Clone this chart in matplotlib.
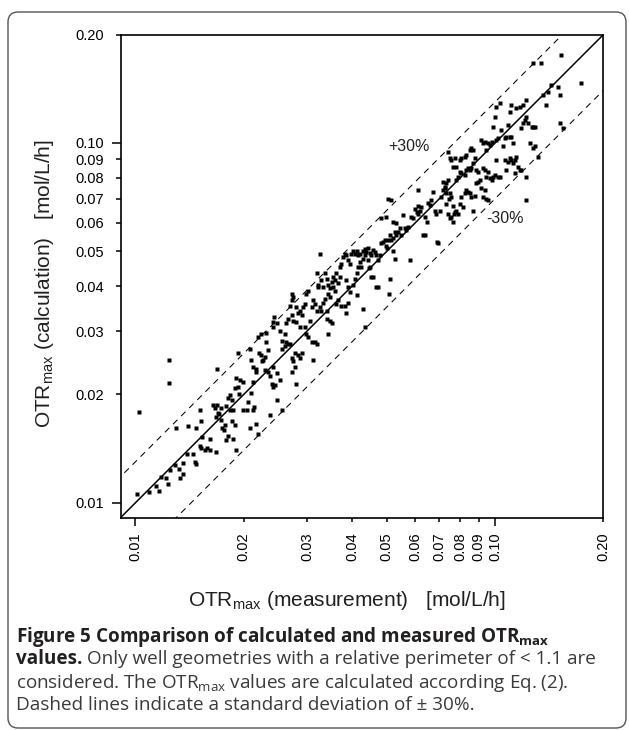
import matplotlib
matplotlib.use('Agg')
import matplotlib.pyplot as plt
import numpy as np
from matplotlib.patches import FancyBboxPatch
from matplotlib.transforms import IdentityTransform
from matplotlib.ticker import FixedLocator, FixedFormatter

plt.rcParams['font.family'] = 'Liberation Sans'
plt.rcParams['mathtext.fontset'] = 'custom'
plt.rcParams['mathtext.rm'] = 'Liberation Sans'
plt.rcParams['mathtext.bf'] = 'Open Sans:bold'
plt.rcParams['mathtext.sf'] = 'Open Sans'

# ### data (OTRmax, mol/L/h)
# low range
meas_a = [0.0101, 0.0109, 0.0116, 0.0114, 0.0118, 0.0123, 0.0122, 0.0125, 0.0129, 0.0133,
          0.0132, 0.0136, 0.0136, 0.0139, 0.0145, 0.0146, 0.0147, 0.0151, 0.0152, 0.0156,
          0.0158, 0.0161, 0.0161, 0.0167, 0.0153, 0.0147, 0.0140, 0.0130, 0.0151, 0.0152,
          0.0102, 0.0124, 0.0124]
calc_a = [0.0106, 0.0107, 0.0108, 0.0111, 0.0118, 0.0113, 0.0117, 0.0123, 0.0127, 0.0117,
          0.0124, 0.0129, 0.0120, 0.0137, 0.0137, 0.0130, 0.0128, 0.0144, 0.0142, 0.0140,
          0.0142, 0.0140, 0.0150, 0.0138, 0.0152, 0.0161, 0.0163, 0.0161, 0.0181, 0.0169,
          0.0179, 0.0250, 0.0215]

meas_b = [0.0164, 0.0166, 0.0168, 0.0171, 0.0173, 0.0174, 0.0176, 0.0177, 0.0179, 0.0181,
          0.0186, 0.0187, 0.0189, 0.0191, 0.0179, 0.0181, 0.0183, 0.0187, 0.0173, 0.0169,
          0.0170, 0.0169, 0.0193, 0.0191, 0.0193, 0.0194, 0.0183, 0.0185, 0.0189, 0.0195,
          0.0199, 0.0199, 0.0204, 0.0206, 0.0208, 0.0212, 0.0213, 0.0217, 0.0219, 0.0212,
          0.0210]
calc_b = [0.0187, 0.0183, 0.0173, 0.0176, 0.0170, 0.0161, 0.0159, 0.0164, 0.0149, 0.0153,
          0.0169, 0.0150, 0.0164, 0.0140, 0.0186, 0.0195, 0.0181, 0.0181, 0.0183, 0.0187,
          0.0178, 0.0235, 0.0261, 0.0222, 0.0210, 0.0200, 0.0199, 0.0193, 0.0208, 0.0219,
          0.0216, 0.0181, 0.0181, 0.0190, 0.0161, 0.0181, 0.0185, 0.0166, 0.0155, 0.0217,
          0.0202]

meas_c = [0.0208, 0.0210, 0.0212, 0.0216, 0.0217, 0.0219, 0.0221, 0.0224, 0.0225, 0.0226,
          0.0229, 0.0224, 0.0231, 0.0229, 0.0234, 0.0236, 0.0239, 0.0236, 0.0242, 0.0247,
          0.0255, 0.0252, 0.0244, 0.0247, 0.0242, 0.0231, 0.0234, 0.0242, 0.0242, 0.0243,
          0.0247, 0.0252, 0.0255, 0.0256, 0.0260, 0.0260, 0.0263, 0.0266, 0.0269, 0.0272,
          0.0274, 0.0277, 0.0273, 0.0280, 0.0277, 0.0283, 0.0286, 0.0290, 0.0312, 0.0309,
          0.0315, 0.0319, 0.0299, 0.0302, 0.0305, 0.0296, 0.0286, 0.0280, 0.0274, 0.0272,
          0.0266, 0.0263, 0.0269, 0.0272, 0.0273, 0.0274, 0.0280, 0.0283, 0.0286, 0.0290,
          0.0293, 0.0296, 0.0299, 0.0302, 0.0309, 0.0312, 0.0315, 0.0319, 0.0322, 0.0325,
          0.0329, 0.0332, 0.0336, 0.0340, 0.0343, 0.0347, 0.0351, 0.0355, 0.0358]
calc_c = [0.0268, 0.0250, 0.0239, 0.0236, 0.0231, 0.0288, 0.0260, 0.0257, 0.0247, 0.0250,
          0.0255, 0.0294, 0.0297, 0.0234, 0.0231, 0.0225, 0.0214, 0.0175, 0.0210, 0.0193,
          0.0181, 0.0219, 0.0212, 0.0229, 0.0239, 0.0279, 0.0265, 0.0318, 0.0308, 0.0329,
          0.0315, 0.0300, 0.0282, 0.0268, 0.0273, 0.0294, 0.0279, 0.0276, 0.0277, 0.0252,
          0.0247, 0.0239, 0.0231, 0.0214, 0.0260, 0.0257, 0.0252, 0.0260, 0.0250, 0.0279,
          0.0279, 0.0277, 0.0294, 0.0288, 0.0321, 0.0308, 0.0308, 0.0318, 0.0321, 0.0333,
          0.0324, 0.0315, 0.0353, 0.0365, 0.0381, 0.0373, 0.0349, 0.0336, 0.0341, 0.0333,
          0.0349, 0.0357, 0.0381, 0.0389, 0.0349, 0.0365, 0.0357, 0.0341, 0.0403, 0.0349,
          0.0341, 0.0360, 0.0368, 0.0420, 0.0403, 0.0395, 0.0412, 0.0398, 0.0389]

# middle range
meas_d = [0.0362, 0.0366, 0.0374, 0.0382, 0.0386, 0.0390, 0.0394, 0.0403, 0.0407, 0.0412,
          0.0416, 0.0421, 0.0425, 0.0430, 0.0434, 0.0439, 0.0442, 0.0446, 0.0450, 0.0453,
          0.0458, 0.0468, 0.0468, 0.0463, 0.0458, 0.0340, 0.0341, 0.0347, 0.0351, 0.0343,
          0.0327, 0.0319, 0.0322, 0.0329, 0.0332, 0.0336, 0.0343, 0.0347, 0.0355, 0.0362,
          0.0370, 0.0374, 0.0378, 0.0382, 0.0386, 0.0390, 0.0394, 0.0398, 0.0403, 0.0407,
          0.0412, 0.0416, 0.0421, 0.0430, 0.0434, 0.0444, 0.0448, 0.0453, 0.0390, 0.0430,
          0.0434, 0.0412, 0.0386, 0.0370, 0.0366, 0.0358]
calc_d = [0.0357, 0.0365, 0.0353, 0.0353, 0.0336, 0.0398, 0.0385, 0.0402, 0.0419, 0.0434,
          0.0452, 0.0467, 0.0452, 0.0477, 0.0487, 0.0499, 0.0472, 0.0448, 0.0452, 0.0425,
          0.0425, 0.0398, 0.0487, 0.0498, 0.0504, 0.0341, 0.0324, 0.0321, 0.0315, 0.0294,
          0.0492, 0.0434, 0.0398, 0.0417, 0.0398, 0.0434, 0.0381, 0.0373, 0.0425, 0.0434,
          0.0452, 0.0462, 0.0482, 0.0492, 0.0487, 0.0472, 0.0462, 0.0492, 0.0502, 0.0492,
          0.0502, 0.0487, 0.0492, 0.0502, 0.0507, 0.0512, 0.0496, 0.0487, 0.0358, 0.0345,
          0.0308, 0.0377, 0.0417, 0.0425, 0.0407, 0.0417]

meas_e = [0.0473, 0.0478, 0.0483, 0.0488, 0.0493, 0.0499, 0.0501, 0.0504, 0.0510, 0.0515,
          0.0521, 0.0526, 0.0532, 0.0538, 0.0543, 0.0549, 0.0521, 0.0526, 0.0510, 0.0508,
          0.0473, 0.0483, 0.0499, 0.0504, 0.0515, 0.0521, 0.0532, 0.0555, 0.0561, 0.0567,
          0.0573, 0.0579, 0.0585, 0.0592, 0.0598, 0.0605, 0.0611, 0.0611, 0.0618, 0.0624,
          0.0631, 0.0638, 0.0645, 0.0652, 0.0658, 0.0665, 0.0672, 0.0680, 0.0687, 0.0690,
          0.0694, 0.0702, 0.0709, 0.0717, 0.0724, 0.0732, 0.0740, 0.0748, 0.0756, 0.0764,
          0.0767, 0.0772, 0.0764, 0.0756, 0.0748, 0.0740, 0.0732, 0.0724, 0.0717, 0.0732,
          0.0745, 0.0781, 0.0789, 0.0798, 0.0806, 0.0815, 0.0823, 0.0832, 0.0841, 0.0850,
          0.0860, 0.0869, 0.0878, 0.0888, 0.0897, 0.0907, 0.0916, 0.0926, 0.0936, 0.0946,
          0.0956, 0.0781, 0.0789, 0.0798, 0.0806, 0.0823, 0.0832, 0.0841, 0.0850, 0.0860,
          0.0869, 0.0878, 0.0888, 0.0897, 0.0764, 0.0756, 0.0772, 0.0781, 0.0798, 0.0806,
          0.0823, 0.0832, 0.0850, 0.0860, 0.0869, 0.0748, 0.0740, 0.0611, 0.0638]
calc_e = [0.0472, 0.0487, 0.0527, 0.0532, 0.0537, 0.0516, 0.0512, 0.0537, 0.0555, 0.0537,
          0.0543, 0.0567, 0.0555, 0.0567, 0.0579, 0.0555, 0.0502, 0.0477, 0.0420, 0.0381,
          0.0398, 0.0617, 0.0623, 0.0699, 0.0694, 0.0605, 0.0599, 0.0630, 0.0579, 0.0573,
          0.0586, 0.0472, 0.0623, 0.0617, 0.0655, 0.0642, 0.0636, 0.0669, 0.0648, 0.0662,
          0.0555, 0.0555, 0.0605, 0.0680, 0.0672, 0.0694, 0.0732, 0.0648, 0.0636, 0.0532,
          0.0527, 0.0648, 0.0706, 0.0740, 0.0748, 0.0725, 0.0636, 0.0617, 0.0623, 0.0605,
          0.0636, 0.0642, 0.0669, 0.0706, 0.0725, 0.0789, 0.0773, 0.0756, 0.0781, 0.0676,
          0.0699, 0.0648, 0.0636, 0.0676, 0.0706, 0.0662, 0.0725, 0.0740, 0.0732, 0.0725,
          0.0706, 0.0648, 0.0714, 0.0773, 0.0781, 0.0789, 0.0748, 0.0706, 0.0740, 0.0699,
          0.0694, 0.0789, 0.0806, 0.0832, 0.0823, 0.0815, 0.0841, 0.0850, 0.0841, 0.0850,
          0.0878, 0.0907, 0.0841, 0.0832, 0.0860, 0.0897, 0.0907, 0.0860, 0.0897, 0.0907,
          0.0916, 0.0926, 0.0956, 0.0967, 0.0956, 0.0907, 0.0946, 0.0740, 0.0623]

# high range
meas_f = [0.0916, 0.0926, 0.0936, 0.0946, 0.0956, 0.0967, 0.0978, 0.0988, 0.0998, 0.1009,
          0.1020, 0.0926, 0.0936, 0.0946, 0.0956, 0.0967, 0.0978, 0.0988, 0.0998, 0.1009,
          0.1020, 0.1031, 0.1042, 0.1053, 0.1065, 0.1076, 0.1087, 0.1099, 0.1111, 0.1123,
          0.1135, 0.1147, 0.1159, 0.1172, 0.1065, 0.1076, 0.1087, 0.1099, 0.1111, 0.1123,
          0.1135, 0.1184, 0.1197, 0.1210, 0.1223, 0.1236, 0.1249, 0.1263, 0.1276, 0.1290,
          0.1317, 0.1276, 0.1290, 0.1223, 0.1223, 0.1184, 0.1099, 0.1111, 0.1147, 0.1172,
          0.1197, 0.1223, 0.1009, 0.1031, 0.1360, 0.1390, 0.1405, 0.1435, 0.1497, 0.1513,
          0.1513, 0.1546, 0.1530, 0.1276, 0.1346, 0.1738]
calc_f = [0.1020, 0.0998, 0.1009, 0.0956, 0.0998, 0.0988, 0.1009, 0.1109, 0.1184, 0.1020,
          0.1031, 0.0850, 0.0841, 0.0806, 0.0832, 0.0798, 0.0789, 0.0806, 0.0815, 0.0897,
          0.0806, 0.0806, 0.1087, 0.0978, 0.1031, 0.1042, 0.1122, 0.1042, 0.1042, 0.0998,
          0.0897, 0.0916, 0.0860, 0.0841, 0.0897, 0.0841, 0.0888, 0.0907, 0.0897, 0.0878,
          0.0823, 0.1099, 0.1135, 0.1159, 0.1184, 0.1135, 0.0998, 0.1109, 0.1109, 0.1109,
          0.0916, 0.0967, 0.0978, 0.0806, 0.0694, 0.0841, 0.1222, 0.1276, 0.1249, 0.1263,
          0.1276, 0.1317, 0.1263, 0.1290, 0.1360, 0.1276, 0.1390, 0.1450, 0.1435, 0.1360,
          0.1135, 0.1099, 0.1757, 0.1665, 0.1665, 0.1466]

otr_meas = np.array(meas_a + meas_b + meas_c + meas_d + meas_e + meas_f)
otr_calc = np.array(calc_a + calc_b + calc_c + calc_d + calc_e + calc_f)

deviation = 0.30
major_ticks = [0.01, 0.10]
major_labels = ['0.01', '0.10']
minor_ticks = [0.02, 0.03, 0.04, 0.05, 0.06, 0.07, 0.08, 0.09, 0.20]
minor_labels = ['0.02', '0.03', '0.04', '0.05', '0.06', '0.07', '0.08', '0.09', '0.20']
lims = (0.0091, 0.20)

W, H = 629, 730
fig = plt.figure(figsize=(W/100, H/100), dpi=100)
ax = fig.add_axes([120.7/W, 1-517.5/H, (603.3-120.7)/W, (517.5-34.7)/H])

ax.set_xscale('log')
ax.set_yscale('log')
ax.set_xlim(lims)
ax.set_ylim(lims)

ref = np.array([0.005, 0.3])
ax.plot(ref, ref, color='k', lw=1.1)
ax.plot(ref, (1+deviation)*ref, color='k', lw=0.75, dashes=(6, 5))
ax.plot(ref, (1-deviation)*ref, color='k', lw=0.75, dashes=(6, 5))
ax.plot(otr_meas, otr_calc, 's', color='k', ms=2.4, mec='none')

ax.text(0.0506, 0.0978, '+30%', fontsize=11.5, va='center', ha='left', color='#231f20')
ax.text(0.0945, 0.0615, '-30%', fontsize=11.5, va='center', ha='left', color='#231f20')

for axis in (ax.xaxis, ax.yaxis):
    axis.set_major_locator(FixedLocator(major_ticks))
    axis.set_major_formatter(FixedFormatter(major_labels))
    axis.set_minor_locator(FixedLocator(minor_ticks))
    axis.set_minor_formatter(FixedFormatter(minor_labels))

ax.tick_params(axis='both', which='both', direction='out', width=1.1,
               labelsize=10.5, colors='k', top=False, right=False)
ax.tick_params(axis='x', which='major', length=5.8, pad=4.8, labelrotation=90)
ax.tick_params(axis='x', which='minor', length=3.2, pad=7.2, labelrotation=90)
ax.tick_params(axis='y', which='major', length=6.5, pad=5.8)
ax.tick_params(axis='y', which='minor', length=3.6, pad=8.6)
for s in ax.spines.values():
    s.set_linewidth(1.2)

fig.text(347/W, 1-606/H, 'OTR$_{\\mathrm{max}}$ (measurement)   [mol/L/h]',
         ha='center', va='baseline', fontsize=15, color='#231f20')
fig.text(50/W, 1-284/H, 'OTR$_{\\mathrm{max}}$ (calculation)   [mol/L/h]',
         rotation=90, rotation_mode='anchor', ha='center', va='baseline',
         fontsize=15, color='#231f20')

# caption
cap = dict(fontfamily='Open Sans', fontsize=13.6, va='baseline')
fig.text(16/W, 1-641.7/H, 'Figure 5 Comparison of calculated and measured OTR$_{\\mathbf{max}}$',
         fontweight='bold', color='#231f20', **cap)
t = fig.text(16/W, 1-664.3/H, 'values.', fontweight='bold', color='#231f20', **cap)
fig.canvas.draw()
bb = t.get_window_extent()
fig.text((bb.x1 + 5)/W, 1-664.3/H, 'Only well geometries with a relative perimeter of < 1.1 are',
         color='#3a3a3a', **cap)
fig.text(16/W, 1-688.3/H, 'considered. The OTR$_{\\mathsf{max}}$ values are calculated according Eq. (2).',
         color='#3a3a3a', **cap)
fig.text(16/W, 1-710/H, 'Dashed lines indicate a standard deviation of \u00b1 30%.',
         color='#3a3a3a', **cap)

box = FancyBboxPatch((8, 2), 618, 716, boxstyle='round,pad=0,rounding_size=10',
                     transform=IdentityTransform(), fill=False, ec='#555555', lw=1.0)
fig.patches.append(box)

fig.savefig('out.png', dpi=100)
